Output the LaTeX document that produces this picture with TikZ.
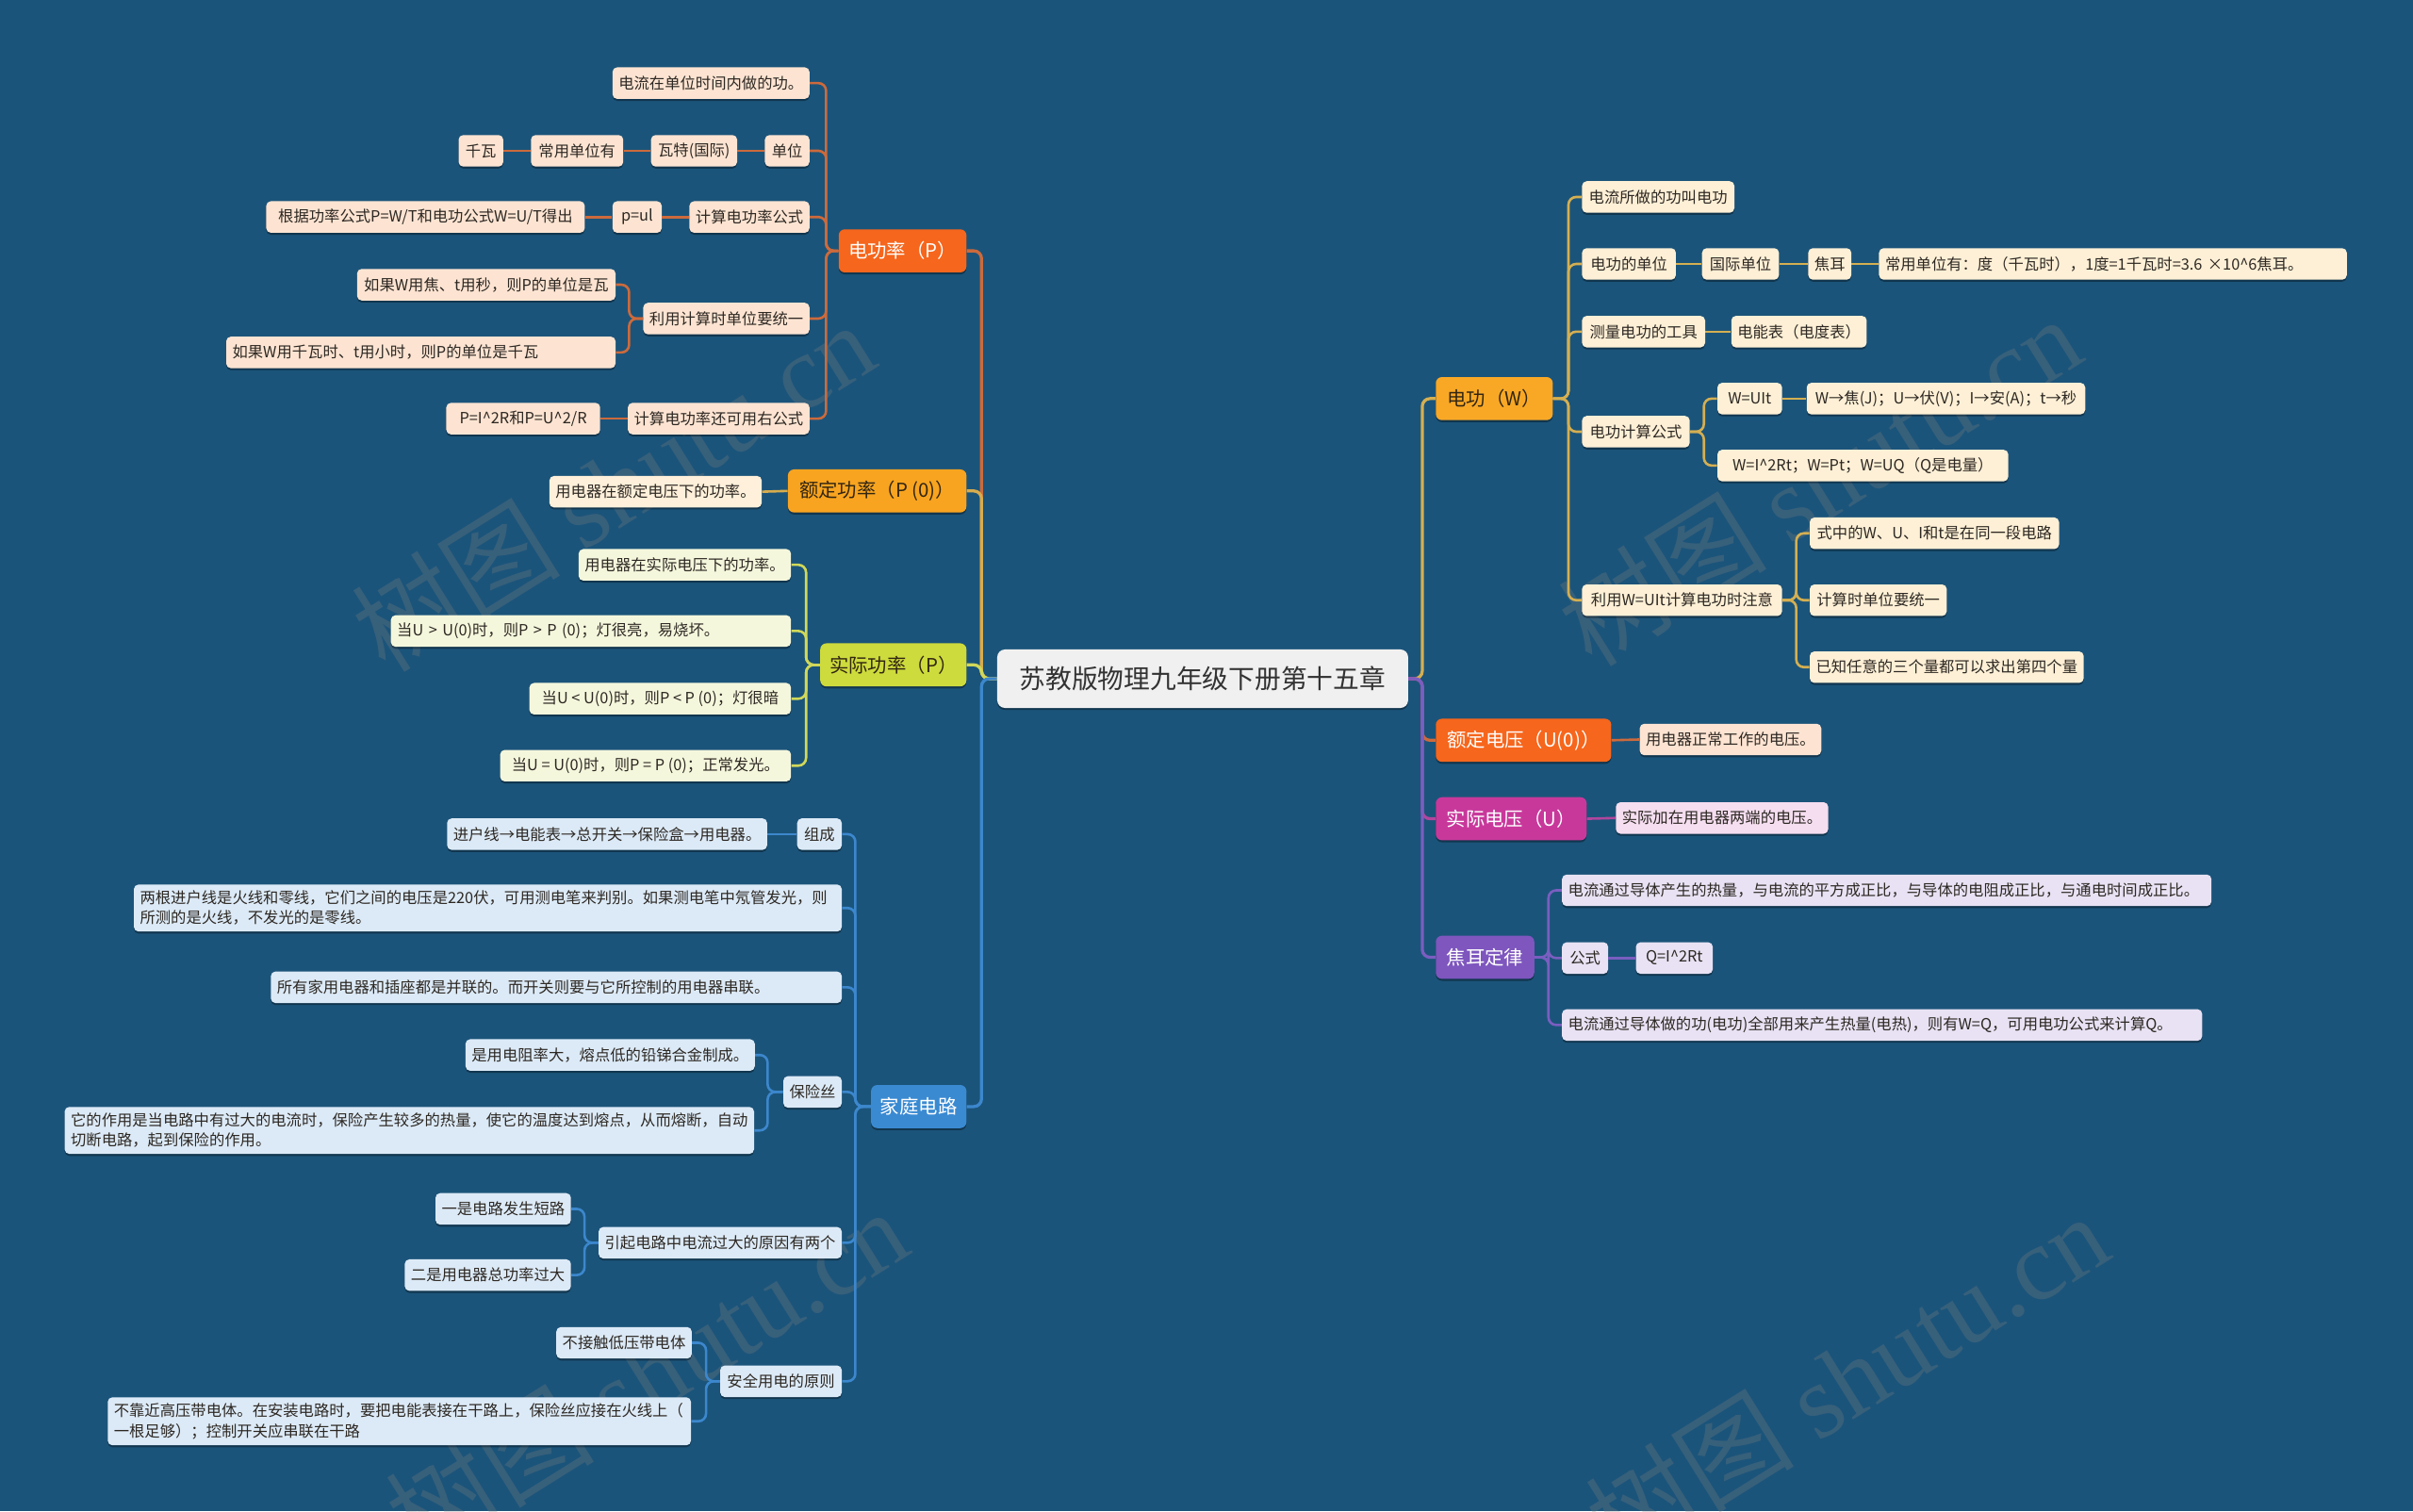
\documentclass[tikz,border=0pt]{standalone}
\usepackage{fontspec}
\setmainfont{Noto Sans CJK SC}
\newfontfamily\wmserif{Liberation Serif}
\usetikzlibrary{shadows}
\definecolor{bgc}{RGB}{27,84,122}
\definecolor{leaftxt}{RGB}{45,40,35}
\definecolor{darktxt}{RGB}{50,38,18}
\definecolor{fP}{RGB}{246,102,28}\definecolor{lnP}{RGB}{204,106,60}\definecolor{lfP}{RGB}{253,228,210}
\definecolor{fQ}{RGB}{248,164,32}\definecolor{lnQ}{RGB}{214,172,78}\definecolor{lfQ}{RGB}{254,240,218}
\definecolor{fR}{RGB}{205,219,60}\definecolor{lnR}{RGB}{208,216,90}\definecolor{lfR}{RGB}{245,247,220}
\definecolor{fH}{RGB}{58,138,210}\definecolor{lnH}{RGB}{60,135,205}\definecolor{lfH}{RGB}{220,234,247}
\definecolor{fW}{RGB}{249,168,38}\definecolor{lnW}{RGB}{212,175,82}\definecolor{lfW}{RGB}{254,240,214}
\definecolor{fU}{RGB}{246,102,28}\definecolor{lnU}{RGB}{204,106,60}\definecolor{lfU}{RGB}{253,228,210}
\definecolor{fV}{RGB}{200,56,155}\definecolor{lnV}{RGB}{176,70,158}\definecolor{lfV}{RGB}{245,222,240}
\definecolor{fJ}{RGB}{126,86,190}\definecolor{lnJ}{RGB}{122,94,192}\definecolor{lfJ}{RGB}{232,226,244}
\definecolor{rootfill}{RGB}{240,240,240}
\newcommand\leaffnt{\fontsize{10pt}{13pt}\selectfont}
\newcommand\brfnt{\fontsize{12.5pt}{15pt}\selectfont}
\newcommand\rootfnt{\fontsize{17pt}{20pt}\selectfont}
\newcommand\wmfnt{\fontsize{68pt}{70pt}\selectfont}
\newcommand\caret{\textasciicircum}
\tikzset{
  shd/.style={drop shadow={shadow xshift=0pt,shadow yshift=-1.3pt,opacity=0.35,fill=black}},
  leaf/.style={shd,rounded corners=3pt,minimum height=20.5pt,inner xsep=4pt,inner ysep=2pt,text=leaftxt,font=\leaffnt},
  two/.style={inner ysep=4pt,align=left},
  lP/.style={leaf,fill=lfP}, lQ/.style={leaf,fill=lfQ}, lR/.style={leaf,fill=lfR},
  lH/.style={leaf,fill=lfH}, lW/.style={leaf,fill=lfW}, lU/.style={leaf,fill=lfU},
  lV/.style={leaf,fill=lfV}, lJ/.style={leaf,fill=lfJ},
  br/.style={shd,rounded corners=4pt,minimum height=28pt,inner xsep=5pt,inner ysep=2pt,font=\brfnt},
  rootbox/.style={shd,rounded corners=5pt,fill=rootfill,minimum height=38pt,text=black!80,font=\rootfnt},
  cn/.style={line width=1.6pt,rounded corners=5pt},
  rc/.style={line width=2pt,rounded corners=5pt},
  wm/.style={text=gray,opacity=0.28,font=\wmfnt},
}
\begin{document}
\begin{tikzpicture}[x=1pt,y=-1pt]
\fill[bgc] (0,0) rectangle (1568,982);
\useasboundingbox (0,0) rectangle (1568,982);
% watermarks
\node[wm,rotate=32] (wm1) at (398,316) {树图 {\wmserif shutu.cn}};
\node[wm,rotate=32] (wm2) at (420,892) {树图 {\wmserif shutu.cn}};
\node[wm,rotate=32] (wm3) at (1182,312) {树图 {\wmserif shutu.cn}};
\node[wm,rotate=32] (wm4) at (1200,895) {树图 {\wmserif shutu.cn}};

% root
\node[rootbox,minimum width=267] (root) at (781.5,441) {苏教版物理九年级下册第十五章};

% main branches left
\node[br,fill=fP,text=white,minimum width=83] (P) at (586.5,163) {电功率（P）};
\node[br,fill=fQ,text=darktxt,minimum width=116] (Q) at (570,319) {额定功率（P (0)）};
\node[br,fill=fR,text=darktxt,minimum width=95] (R) at (580.5,432) {实际功率（P）};
\node[br,fill=fH,text=white,minimum width=62] (H) at (597,719) {家庭电路};
% main branches right
\node[br,fill=fW,text=darktxt,minimum width=76] (W) at (971,259) {电功（W）};
\node[br,fill=fU,text=white,minimum width=114] (U) at (990,481) {额定电压（U(0)）};
\node[br,fill=fV,text=white,minimum width=98] (V) at (982,532) {实际电压（U）};
\node[br,fill=fJ,text=white,minimum width=64] (J) at (965,622) {焦耳定律};

% root connectors
\draw[rc,lnP] (root.west) -- ++(-10,0) |- (P.east);
\draw[rc,lnQ] (root.west) -- ++(-10,0) |- (Q.east);
\draw[rc,lnR] (root.west) -- ++(-10,0) |- (R.east);
\draw[rc,lnH] (root.west) -- ++(-10,0) |- (H.east);
\draw[rc,lnW] (root.east) -- ++(9,0) |- (W.west);
\draw[rc,lnU] (root.east) -- ++(9,0) |- (U.west);
\draw[rc,lnV] (root.east) -- ++(9,0) |- (V.west);
\draw[rc,lnJ] (root.east) -- ++(9,0) |- (J.west);

% 电功率 leaves
\node[lP,minimum width=128] (p1) at (462,54) {电流在单位时间内做的功。};
\node[lP,minimum width=29] (p2) at (511.5,98) {单位};
\node[lP,minimum width=56] (p2a) at (451,98) {瓦特(国际)};
\node[lP,minimum width=60] (p2b) at (375,98) {常用单位有};
\node[lP,minimum width=29] (p2c) at (312.5,98) {千瓦};
\node[lP,minimum width=78] (p3) at (487,141) {计算电功率公式};
\node[lP,minimum width=32] (p3a) at (414,141) {p=ul};
\node[lP,minimum width=207] (p3b) at (276.5,141) {根据功率公式P=W/T和电功公式W=U/T得出};
\node[lP,minimum width=108] (p4) at (472,207) {利用计算时单位要统一};
\node[lP,minimum width=168] (p4a) at (316,185) {如果W用焦、t用秒，则P的单位是瓦};
\node[lP,text width=245,align=left] (p4b) at (273.5,229) {如果W用千瓦时、t用小时，则P的单位是千瓦};
\node[lP,minimum width=118] (p5) at (467,272) {计算电功率还可用右公式};
\node[lP,minimum width=100] (p5a) at (340,272) {P=I\caret2R和P=U\caret2/R};
\foreach \c in {p1,p2,p3,p4,p5} \draw[cn,lnP] (P.west) -- ++(-8,0) |- (\c.east);
\draw[cn,lnP] (p2.west) -- (p2a.east);
\draw[cn,lnP] (p2a.west) -- (p2b.east);
\draw[cn,lnP] (p2b.west) -- (p2c.east);
\draw[cn,lnP] (p3.west) -- (p3a.east);
\draw[cn,lnP] (p3a.west) -- (p3b.east);
\draw[cn,lnP] (p4.west) -- ++(-9,0) |- (p4a.east);
\draw[cn,lnP] (p4.west) -- ++(-9,0) |- (p4b.east);
\draw[cn,lnP] (p5.west) -- (p5a.east);

% 额定功率 leaf
\node[lQ,minimum width=138] (q1) at (426,319.5) {用电器在额定电压下的功率。};
\draw[cn,lnQ] (Q.west) -- (q1.east);

% 实际功率 leaves
\node[lR,minimum width=138] (r1) at (445,367) {用电器在实际电压下的功率。};
\node[lR,text width=252,align=left] (r2) at (384,410) {当U > U(0)时，则P > P (0)；灯很亮，易烧坏。};
\node[lR,minimum width=170] (r3) at (429,454) {当U < U(0)时，则P < P (0)；灯很暗};
\node[lR,minimum width=189] (r4) at (419.5,497.5) {当U = U(0)时，则P = P (0)；正常发光。};
\foreach \c in {r1,r2,r3,r4} \draw[cn,lnR] (R.west) -- ++(-9,0) |- (\c.east);

% 家庭电路 leaves
\node[lH,minimum width=29] (h1) at (532.5,542) {组成};
\node[lH,minimum width=207] (h1a) at (394.5,542) {进户线→电能表→总开关→保险盒→用电器。};
\node[lH,two,text width=452] (h2) at (317,590) {两根进户线是火线和零线，它们之间的电压是220伏，可用测电笔来判别。如果测电笔中氖管发光，则\\所测的是火线，不发光的是零线。};
\node[lH,text width=363,align=left] (h3) at (361.5,641.5) {所有家用电器和插座都是并联的。而开关则要与它所控制的用电器串联。};
\node[lH,minimum width=38] (h4) at (528,709.5) {保险丝};
\node[lH,minimum width=187] (h4a) at (396.5,685.5) {是用电阻率大，熔点低的铅锑合金制成。};
\node[lH,two,text width=440] (h4b) at (266,734.5) {它的作用是当电路中有过大的电流时，保险产生较多的热量，使它的温度达到熔点，从而熔断，自动\\切断电路，起到保险的作用。};
\node[lH,minimum width=158] (h5) at (468,807.5) {引起电路中电流过大的原因有两个};
\node[lH,minimum width=88] (h5a) at (327,785.5) {一是电路发生短路};
\node[lH,minimum width=108] (h5b) at (317,828.5) {二是用电器总功率过大};
\node[lH,minimum width=79] (h6) at (507.5,897.5) {安全用电的原则};
\node[lH,minimum width=87] (h6a) at (405.5,872.5) {不接触低压带电体};
\node[lH,two,text width=371] (h6b) at (259.5,923.5) {不靠近高压带电体。在安装电路时，要把电能表接在干路上，保险丝应接在火线上（\\一根足够）；控制开关应串联在干路};
\foreach \c in {h1,h2,h3,h4,h5,h6} \draw[cn,lnH] (H.west) -- ++(-10,0) |- (\c.east);
\draw[cn,lnH] (h1.west) -- (h1a.east);
\draw[cn,lnH] (h4.west) -- ++(-10,0) |- (h4a.east);
\draw[cn,lnH] (h4.west) -- ++(-10,0) |- (h4b.east);
\draw[cn,lnH] (h5.west) -- ++(-9,0) |- (h5a.east);
\draw[cn,lnH] (h5.west) -- ++(-9,0) |- (h5b.east);
\draw[cn,lnH] (h6.west) -- ++(-9,0) |- (h6a.east);
\draw[cn,lnH] (h6.west) -- ++(-9,0) |- (h6b.east);

% 电功 leaves
\node[lW,minimum width=99] (w1) at (1077.5,128) {电流所做的功叫电功};
\node[lW,minimum width=61] (w2) at (1058.5,171.5) {电功的单位};
\node[lW,minimum width=50] (w2a) at (1131,171.5) {国际单位};
\node[lW,minimum width=28] (w2b) at (1189,171.5) {焦耳};
\node[lW,text width=296,align=left] (w2c) at (1373,171.5) {常用单位有：度（千瓦时），1度=1千瓦时=3.6 ×10\caret6焦耳。};
\node[lW,minimum width=80] (w3) at (1068,215.5) {测量电功的工具};
\node[lW,minimum width=86] (w3a) at (1169,215.5) {电能表（电度表）};
\node[lW,minimum width=70] (w4) at (1063,280.5) {电功计算公式};
\node[lW,minimum width=42] (w4a) at (1137,259) {W=UIt};
\node[lW,minimum width=181] (w4b) at (1264.5,259) {W→焦(J)；U→伏(V)；I→安(A)；t→秒};
\node[lW,minimum width=189] (w4c) at (1210.5,302.5) {W=I\caret2Rt；W=Pt；W=UQ（Q是电量）};
\node[lW,minimum width=130] (w5) at (1093,390) {利用W=UIt计算电功时注意};
\node[lW,minimum width=162] (w5a) at (1257,346.5) {式中的W、U、I和t是在同一段电路};
\node[lW,minimum width=89] (w5b) at (1220.5,390) {计算时单位要统一};
\node[lW,minimum width=178] (w5c) at (1265,433.5) {已知任意的三个量都可以求出第四个量};
\foreach \c in {w1,w2,w3,w4,w5} \draw[cn,lnW] (W.east) -- ++(10,0) |- (\c.west);
\draw[cn,lnW] (w2.east) -- (w2a.west);
\draw[cn,lnW] (w2a.east) -- (w2b.west);
\draw[cn,lnW] (w2b.east) -- (w2c.west);
\draw[cn,lnW] (w3.east) -- (w3a.west);
\draw[cn,lnW] (w4.east) -- ++(9,0) |- (w4a.west);
\draw[cn,lnW] (w4.east) -- ++(9,0) |- (w4c.west);
\draw[cn,lnW] (w4a.east) -- (w4b.west);
\foreach \c in {w5a,w5b,w5c} \draw[cn,lnW] (w5.east) -- ++(9,0) |- (\c.west);

% 额定电压 / 实际电压 leaves
\node[lU,minimum width=117] (u1) at (1124.5,480.5) {用电器正常工作的电压。};
\draw[cn,lnU] (U.east) -- (u1.west);
\node[lV,minimum width=138] (v1) at (1119,531.5) {实际加在用电器两端的电压。};
\draw[cn,lnV] (V.east) -- (v1.west);

% 焦耳定律 leaves
\node[lJ,text width=414,align=left] (j1) at (1226,578.5) {电流通过导体产生的热量，与电流的平方成正比，与导体的电阻成正比，与通电时间成正比。};
\node[lJ,minimum width=30] (j2) at (1030,622.5) {公式};
\node[lJ,minimum width=50] (j2a) at (1088,622.5) {Q=I\caret2Rt};
\node[lJ,text width=408,align=left] (j3) at (1223,666) {电流通过导体做的功(电功)全部用来产生热量(电热)，则有W=Q，可用电功公式来计算Q。};
\foreach \c in {j1,j2,j3} \draw[cn,lnJ] (J.east) -- ++(9,0) |- (\c.west);
\draw[cn,lnJ] (j2.east) -- (j2a.west);
\end{tikzpicture}
\end{document}
